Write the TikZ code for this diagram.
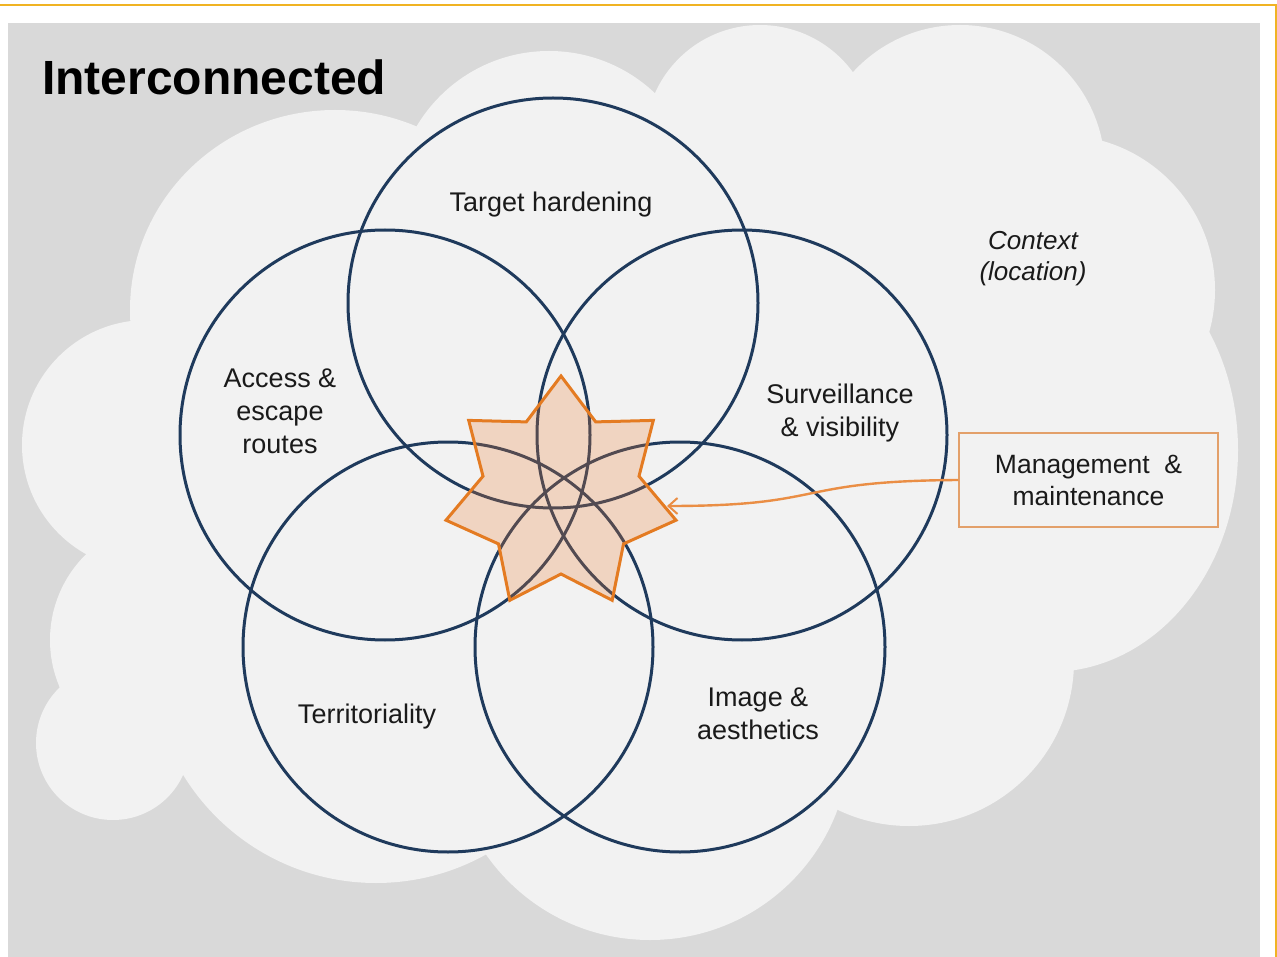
\documentclass[tikz,border=0pt]{standalone}
\usepackage{fontspec}
\setmainfont{Liberation Sans}
\usetikzlibrary{arrows.meta}

\definecolor{framegold}{HTML}{F0B323}
\definecolor{bggray}{HTML}{D9D9D9}
\definecolor{cloudwhite}{HTML}{F2F2F2}
\definecolor{ringnavy}{HTML}{1F3A5C}
\definecolor{starorange}{HTML}{E47B22}
\definecolor{starfill}{HTML}{ED7D31}
\definecolor{boxorange}{HTML}{E3A06A}
\definecolor{arroworange}{HTML}{EA8E45}
\definecolor{inkblack}{HTML}{1A1A1A}

\begin{document}
\begin{tikzpicture}[x=1pt,y=-1pt,
  ring/.style={draw=ringnavy,line width=3pt},
  puff/.style={fill=cloudwhite},
  lbl/.style={font=\fontsize{27}{33}\selectfont,text=inkblack,align=center,inner sep=0pt},
  ctx/.style={lbl,font=\fontsize{26}{31}\selectfont\itshape},
  titletext/.style={font=\fontsize{48}{54}\selectfont\bfseries,inner sep=0pt,anchor=base west},
  starshape/.style={draw=starorange,line width=3pt,line join=miter,fill=starfill,fill opacity=0.25},
  mbox/.style={draw=boxorange,line width=1.5pt,fill=cloudwhite,minimum width=259pt,minimum height=94pt,
    lbl,font=\fontsize{26.5}{32}\selectfont,inner sep=0pt},
  flow/.style={draw=arroworange,line width=2.4pt,-{Straight Barb[length=9pt,width=16pt,line width=2pt]}}
]
\useasboundingbox (0,0) rectangle (1277,957);

% page frame
\fill[white] (0,0) rectangle (1277,957);
\draw[framegold,line width=2pt] (0,5.5) -- (1276,5.5) -- (1276,957);

% grey slide background
\fill[bggray] (8,23) rectangle (1260,957);

% the "context" cloud, built from overlapping puffs
\begin{scope}
\clip (8,23) rectangle (1260,957);
\fill[puff] (335,310) ellipse[x radius=205,y radius=200];
\fill[puff] (549,205) circle[radius=154];
\fill[puff] (760,140) circle[radius=115];
\fill[puff] (960,170) circle[radius=145];
\fill[puff] (1060,290) circle[radius=155];
\fill[puff] (1050,450) ellipse[x radius=188,y radius=222];
\fill[puff] (909,661) circle[radius=165];
\fill[puff] (650,740) circle[radius=200];
\fill[puff] (376,657) circle[radius=226];
\fill[puff] (113,743) circle[radius=77];
\fill[puff] (170,640) circle[radius=120];
\fill[puff] (147,445) circle[radius=125];
\fill[puff] (335,310) -- (549,205) -- (760,140) -- (960,170) -- (1060,290) -- (1050,450)
  -- (909,661) -- (650,740) -- (376,657) -- (170,640) -- (147,445) -- cycle;
\end{scope}

% title
\node[titletext,text=black] (title) at (42,95) {Interconnected};

% five overlapping principle rings
\draw[ring] (553,303) circle[radius=205];
\draw[ring] (385,435) circle[radius=205];
\draw[ring] (742,435) circle[radius=205];
\draw[ring] (448,647) circle[radius=205];
\draw[ring] (680,647) circle[radius=205];

% seven-pointed star at the centre
\path[starshape] (561,376) -- (595.7,421.9) -- (653.3,420.4) -- (639,476.2) -- (676,520.2)
  -- (623.5,543.9) -- (612.2,600.3) -- (561,574) -- (509.8,600.3) -- (498.5,543.9)
  -- (446,520.2) -- (483,476.2) -- (468.7,420.4) -- (526.3,421.9) -- cycle;
\coordinate (starR) at (667,506);

% ring labels
\node[lbl] (target) at (551,205) {Target hardening};
\node[lbl] (access) at (280,411) {Access \&\\escape\\routes};
\node[lbl] (surv) at (840,413) {Surveillance\\\& visibility};
\node[lbl] (terr) at (367,717) {Territoriality};
\node[lbl] (image) at (758,714) {Image \&\\aesthetics};
\node[ctx] (context) at (1033,259) {Context\\(location)};

% management box and its pointer to the star
\node[mbox] (mm) at (1088.5,480) {Management\ \ \&\\maintenance};
\draw[flow] (mm.west) .. controls (790,481) and (830,506) .. (starR);

\end{tikzpicture}
\end{document}
